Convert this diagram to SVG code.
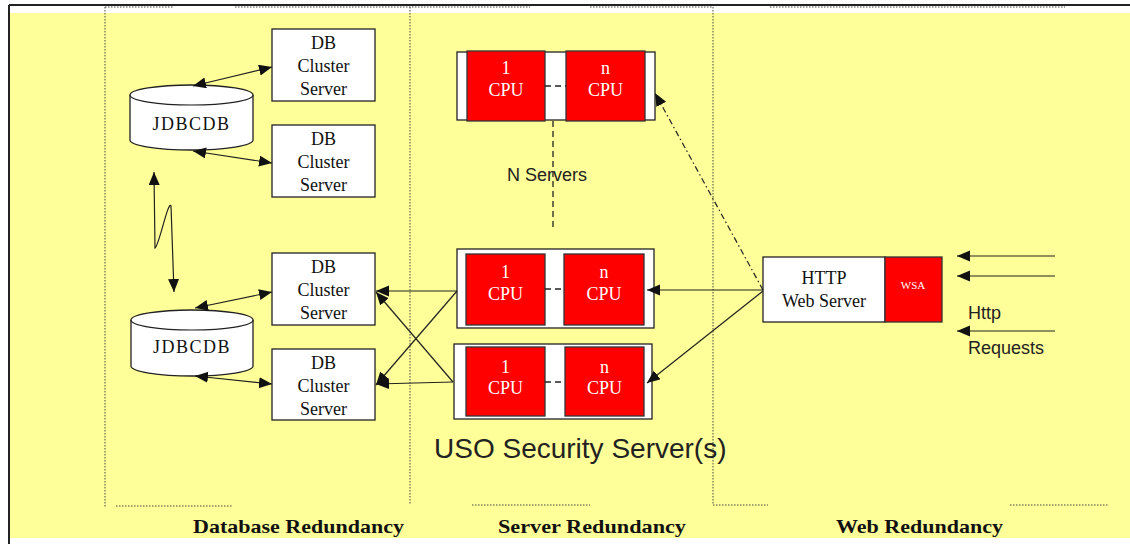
<svg xmlns="http://www.w3.org/2000/svg" width="1130" height="544" viewBox="0 0 1130 544">
  <style>
    .box { fill: #ffffff; stroke: #222; stroke-width: 1.3; }
    .cpu { fill: #ff0000; stroke: #333; stroke-width: 1.3; }
    .frame { fill: #ffffff; stroke: #222; stroke-width: 1.3; }
    .t { font-family: "Liberation Serif", serif; font-size: 18px; fill: #111; text-anchor: middle; }
    .tw { font-family: "Liberation Serif", serif; font-size: 18px; fill: #ffffff; text-anchor: middle; }
    .s { font-family: "Liberation Sans", Arial, sans-serif; fill: #222; }
    .lbl { font-family: "Liberation Serif", serif; font-weight: bold; font-size: 19px; fill: #111; text-anchor: middle; }
    .ln { fill: none; stroke: #222; stroke-width: 1.2; }
    .dot { fill: none; stroke: #444; stroke-width: 1; stroke-dasharray: 1.5,1.5; }
    .dash { fill: none; stroke: #222; stroke-width: 1.3; stroke-dasharray: 6,4; }
  </style>
  <defs>
    <marker id="ah" markerUnits="userSpaceOnUse" markerWidth="14" markerHeight="12" refX="13" refY="5.5" orient="auto-start-reverse">
      <path d="M0,0 L13,5.5 L0,11 z" fill="#111"/>
    </marker>
  </defs>

  <!-- page background and frame -->
  <rect x="0" y="0" width="1130" height="544" fill="#ffffff"/>
  <rect x="9" y="13" width="1121" height="525" fill="#ffff99"/>
  <line x1="9" y1="5" x2="1130" y2="5" stroke="#222" stroke-width="2"/>
  <line x1="9" y1="5" x2="9" y2="544" stroke="#222" stroke-width="2"/>

  <!-- dotted zone borders -->
  <g id="zones">
    <path class="dot" d="M105,7 V507 M410,7 V505 M713,7 V505"/>
    <path class="dot" d="M105,7 H173 M235,7 H530 M590,7 H713 M770,7 H1065"/>
    <path class="dot" d="M116,506 H232 M472,505 H590 M713,505 H768 M1010,505 H1108"/>
  </g>

  <!-- database tier -->
  <g id="db1">
    <path class="box" d="M130,95 A61.5,10 0 0 1 253,95 V140 A61.5,10 0 0 1 130,140 Z"/>
    <path class="ln" d="M130,95 A61.5,10 0 0 0 253,95"/>
    <text class="t" x="191.5" y="130" letter-spacing="1.5">JDBCDB</text>
  </g>
  <g id="db2">
    <path class="box" d="M131,320 A61,10 0 0 1 253,320 V366 A61,10 0 0 1 131,366 Z"/>
    <path class="ln" d="M131,320 A61,10 0 0 0 253,320"/>
    <text class="t" x="192" y="353" letter-spacing="1.5">JDBCDB</text>
  </g>
  <g id="cluster1">
    <rect class="box" x="272" y="29" width="103" height="72"/>
    <text class="t" x="323.5" y="49">DB</text>
    <text class="t" x="323.5" y="72">Cluster</text>
    <text class="t" x="323.5" y="95">Server</text>
  </g>
  <g id="cluster2">
    <rect class="box" x="272" y="125" width="103" height="72"/>
    <text class="t" x="323.5" y="145">DB</text>
    <text class="t" x="323.5" y="168">Cluster</text>
    <text class="t" x="323.5" y="191">Server</text>
  </g>
  <g id="cluster3">
    <rect class="box" x="272" y="253" width="103" height="72"/>
    <text class="t" x="323.5" y="273">DB</text>
    <text class="t" x="323.5" y="296">Cluster</text>
    <text class="t" x="323.5" y="319">Server</text>
  </g>
  <g id="cluster4">
    <rect class="box" x="272" y="349" width="103" height="71"/>
    <text class="t" x="323.5" y="369">DB</text>
    <text class="t" x="323.5" y="392">Cluster</text>
    <text class="t" x="323.5" y="415">Server</text>
  </g>

  <!-- security servers -->
  <g id="serverN">
    <rect class="frame" x="457" y="52" width="198" height="68"/>
    <rect class="cpu" x="467" y="51" width="78" height="70"/>
    <rect class="cpu" x="566" y="51" width="79" height="70"/>
    <line class="dash" x1="545" y1="86" x2="566" y2="86"/>
    <text class="tw" x="506" y="74">1</text>
    <text class="tw" x="506" y="96">CPU</text>
    <text class="tw" x="605.5" y="74">n</text>
    <text class="tw" x="605.5" y="96">CPU</text>
  </g>
  <g id="nservers">
    <line class="dash" x1="553" y1="121" x2="553" y2="228"/>
    <text class="s" x="507" y="181" font-size="18">N Servers</text>
  </g>
  <g id="server1">
    <rect class="frame" x="457" y="249" width="197" height="79"/>
    <rect class="cpu" x="466" y="254" width="79" height="71"/>
    <rect class="cpu" x="564" y="254" width="80" height="71"/>
    <line class="dash" x1="545" y1="289" x2="564" y2="289"/>
    <text class="tw" x="505.5" y="278">1</text>
    <text class="tw" x="505.5" y="300">CPU</text>
    <text class="tw" x="604" y="278">n</text>
    <text class="tw" x="604" y="300">CPU</text>
  </g>
  <g id="server2">
    <rect class="frame" x="454" y="344" width="198" height="75"/>
    <rect class="cpu" x="466" y="347" width="79" height="69"/>
    <rect class="cpu" x="565" y="347" width="79" height="69"/>
    <line class="dash" x1="545" y1="382" x2="565" y2="382"/>
    <text class="tw" x="505.5" y="373">1</text>
    <text class="tw" x="505.5" y="394">CPU</text>
    <text class="tw" x="604.5" y="373">n</text>
    <text class="tw" x="604.5" y="394">CPU</text>
  </g>
  <text class="s" x="434" y="458" font-size="28">USO Security Server(s)</text>

  <!-- web tier -->
  <g id="webserver">
    <rect class="box" x="763" y="257" width="122" height="65"/>
    <rect class="cpu" x="885" y="257" width="57" height="65" stroke="#222"/>
    <text class="t" x="824" y="284">HTTP</text>
    <text class="t" x="824" y="307">Web Server</text>
    <text x="913" y="289" font-family="Liberation Serif, serif" font-size="11" fill="#ffffff" text-anchor="middle">WSA</text>
  </g>
  <g id="requests">
    <text class="s" x="968" y="319" font-size="18">Http</text>
    <text class="s" x="968" y="354" font-size="18">Requests</text>
  </g>

  <!-- connectors -->
  <g id="connectors">
    <path class="ln" d="M193,86 L272,67" marker-start="url(#ah)" marker-end="url(#ah)"/>
    <path class="ln" d="M193,151 L272,163" marker-start="url(#ah)" marker-end="url(#ah)"/>
    <path class="ln" d="M195,308 L272,292" marker-start="url(#ah)" marker-end="url(#ah)"/>
    <path class="ln" d="M195,376 L272,384" marker-start="url(#ah)" marker-end="url(#ah)"/>
    <path class="ln" d="M154,172 L155,248 C159,246 168,200 171,206 L174,292" marker-start="url(#ah)" marker-end="url(#ah)"/>

    <path class="ln" d="M457,291 L376,291" marker-end="url(#ah)"/>
    <path class="ln" d="M457,291 L376,385" marker-end="url(#ah)"/>
    <path class="ln" d="M453,382 L376,292" marker-end="url(#ah)"/>
    <path class="ln" d="M453,382 L376,384" marker-end="url(#ah)"/>

    <path class="ln" d="M763,290 L647,290" marker-end="url(#ah)"/>
    <path class="ln" d="M763,291 L647,383" marker-end="url(#ah)"/>
    <path class="ln" d="M763,290 L655,93" stroke-dasharray="6,3,1.5,3" marker-end="url(#ah)"/>

    <path class="ln" d="M1055,256 L957,256" marker-end="url(#ah)"/>
    <path class="ln" d="M1055,276 L957,276" marker-end="url(#ah)"/>
    <path class="ln" d="M1055,331 L957,331" marker-end="url(#ah)"/>
  </g>

  <!-- zone captions -->
  <text class="lbl" x="298.5" y="533" textLength="211" lengthAdjust="spacingAndGlyphs">Database Redundancy</text>
  <text class="lbl" x="592" y="533" textLength="188" lengthAdjust="spacingAndGlyphs">Server Redundancy</text>
  <text class="lbl" x="919.5" y="533" textLength="167" lengthAdjust="spacingAndGlyphs">Web Redundancy</text>
</svg>
